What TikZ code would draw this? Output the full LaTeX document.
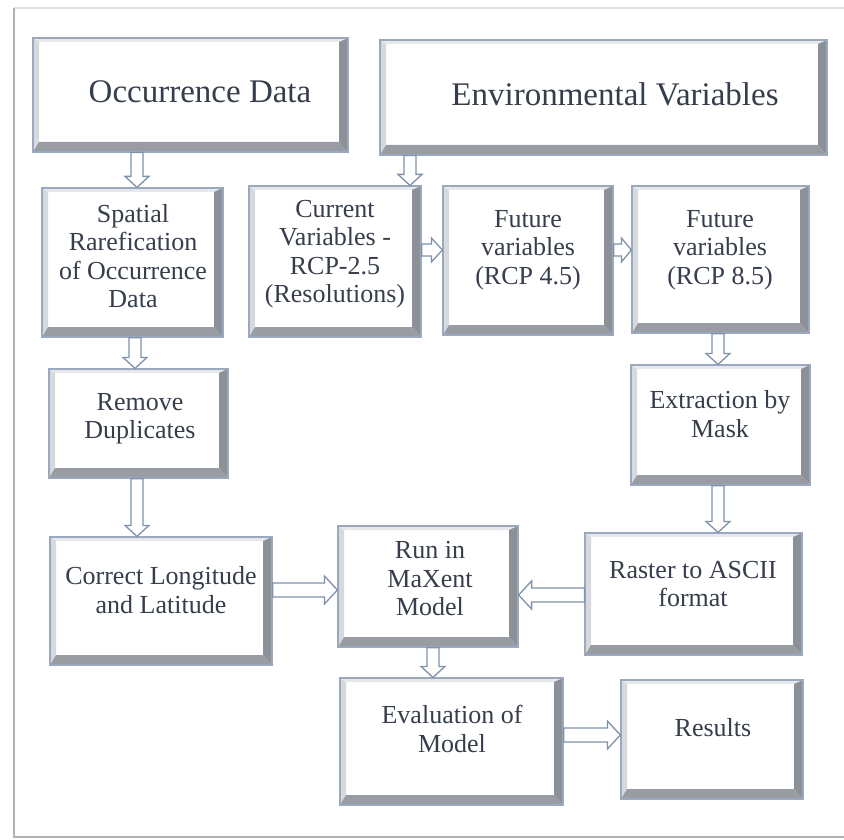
\documentclass[tikz,border=0pt]{standalone}
\usepackage{fontspec}
\setmainfont{Liberation Serif}
\usetikzlibrary{calc}
\definecolor{outl}{HTML}{9AA9BF}
\definecolor{bevL}{HTML}{D6D9DE}
\definecolor{bevT}{HTML}{E6E8EB}
\definecolor{bevR}{HTML}{8C9198}
\definecolor{bevB}{HTML}{999DA3}
\definecolor{arrc}{HTML}{7F92AC}
\definecolor{txt}{HTML}{363E4C}
\tikzset{
  bevbox/.style={rectangle, draw=outl, line width=1.2pt, fill=white, inner sep=0pt,
    path picture={
      \fill[bevL] (path picture bounding box.north west) -- ++(6,4)
         -- ($(path picture bounding box.south west)+(6,-10)$)
         -- (path picture bounding box.south west) -- cycle;
      \fill[bevT] (path picture bounding box.north west) -- (path picture bounding box.north east)
         -- ++(-9,4) -- ($(path picture bounding box.north west)+(6,4)$) -- cycle;
      \fill[bevR] (path picture bounding box.north east) -- (path picture bounding box.south east)
         -- ++(-9,-10) -- ($(path picture bounding box.north east)+(-9,4)$) -- cycle;
      \fill[bevB] (path picture bounding box.south west) -- (path picture bounding box.south east)
         -- ++(-9,-10) -- ($(path picture bounding box.south west)+(6,-10)$) -- cycle;
    }},
  bigtext/.style={text=txt, font=\fontsize{33}{38}\selectfont, inner sep=0pt},
  boxtext/.style={text=txt, font=\fontsize{26}{28.5}\selectfont, align=center, inner sep=0pt},
  blockarr/.style={draw=arrc, line width=1.3pt, fill=white, line join=miter},
}
% #1 start, #2 end, #3 half shaft, #4 half head, #5 head length
\newcommand\barrow[5]{%
  \draw[blockarr] let \p1=(#1), \p2=(#2),
     \n1={atan2(\y2-\y1,\x2-\x1)}, \n2={veclen(\x2-\x1,\y2-\y1)} in
     [shift={(\p1)}, rotate=\n1]
     (0,-#3) -- ({\n2-#5},-#3) -- ({\n2-#5},-#4) -- (\n2,0) -- ({\n2-#5},#4)
     -- ({\n2-#5},#3) -- (0,#3) -- cycle;}
\newcommand\mkbox[5]{% name, x1, y1, x2, y2
  \node[bevbox, minimum width={#4-#2}, minimum height={#5-#3}] (#1) at ({(#2+#4)/2},{(#3+#5)/2}) {};}
\begin{document}
\begin{tikzpicture}[x=1pt, y=-1pt]
\useasboundingbox (0,0) rectangle (844,840);
\fill[white] (0,0) rectangle (844,840);
% outer frame
\draw[draw=black!12, line width=1.5pt] (14,8) -- (844,8);
\draw[draw=black!30, line width=2pt] (14,8) -- (14,837) -- (844,837);

% boxes
\mkbox{occ}{33}{38}{348}{152}
\mkbox{env}{380}{40}{827}{155}
\mkbox{spat}{42}{188}{223}{337}
\mkbox{cur}{249}{186}{421}{337}
\mkbox{fut4}{443}{186}{613}{335}
\mkbox{fut8}{632}{186}{809}{333}
\mkbox{rem}{49}{369}{228}{478}
\mkbox{ext}{631}{365}{810}{485}
\mkbox{cor}{50}{537}{272}{665}
\mkbox{run}{338}{526}{518}{647}
\mkbox{ras}{585}{533}{802}{655}
\mkbox{eva}{340}{678}{563}{805}
\mkbox{res}{621}{680}{803}{799}

% texts
\node[bigtext] (occT) at (200,92) {Occurrence Data};
\node[bigtext] (envT) at (615,94) {Environmental Variables};
\node[boxtext] (spatT) at (133,256) {Spatial\\Rarefication\\of Occurrence\\Data};
\node[boxtext] (curT) at (335,254) {Current\\Variables -\\RCP-2.5\\(Resolutions)};
\node[boxtext] (fut4T) at (528,250) {Future\\variables\\(RCP 4.5)};
\node[boxtext] (fut8T) at (720,250) {Future\\variables\\(RCP 8.5)};
\node[boxtext] (remT) at (140,419) {Remove\\Duplicates};
\node[boxtext] (extT) at (720,414) {Extraction by\\Mask};
\node[boxtext] (corT) at (161,590) {Correct Longitude\\and Latitude};
\node[boxtext] (runT) at (430,579) {Run in\\MaXent\\Model};
\node[boxtext] (rasT) at (693,584) {Raster to ASCII\\format};
\node[boxtext] (evaT) at (452,729) {Evaluation of\\Model};
\node[boxtext] (resT) at (713,728) {Results};

% arrows
\barrow{137,0 |- occ.south}{137,0 |- spat.north}{6}{12}{11}
\barrow{410,0 |- env.south}{410,0 |- cur.north}{6}{12}{11}
\barrow{cur.east |- 0,250}{fut4.west |- 0,250}{6}{12}{11}
\barrow{fut4.east |- 0,250}{fut8.west |- 0,250}{6}{12}{10}
\barrow{718,0 |- fut8.south}{718,0 |- ext.north}{6}{12}{11}
\barrow{718,0 |- ext.south}{718,0 |- ras.north}{6}{12}{11}
\barrow{135,0 |- spat.south}{135,0 |- rem.north}{6}{12}{11}
\barrow{137,0 |- rem.south}{137,0 |- cor.north}{6}{12}{11}
\barrow{cor.east |- 0,590}{run.west |- 0,590}{7}{14}{13}
\barrow{ras.west |- 0,595}{run.east |- 0,595}{7}{14}{13}
\barrow{433,0 |- run.south}{433,0 |- eva.north}{6}{12}{11}
\barrow{eva.east |- 0,735}{res.west |- 0,735}{7}{14}{13}
\end{tikzpicture}
\end{document}
